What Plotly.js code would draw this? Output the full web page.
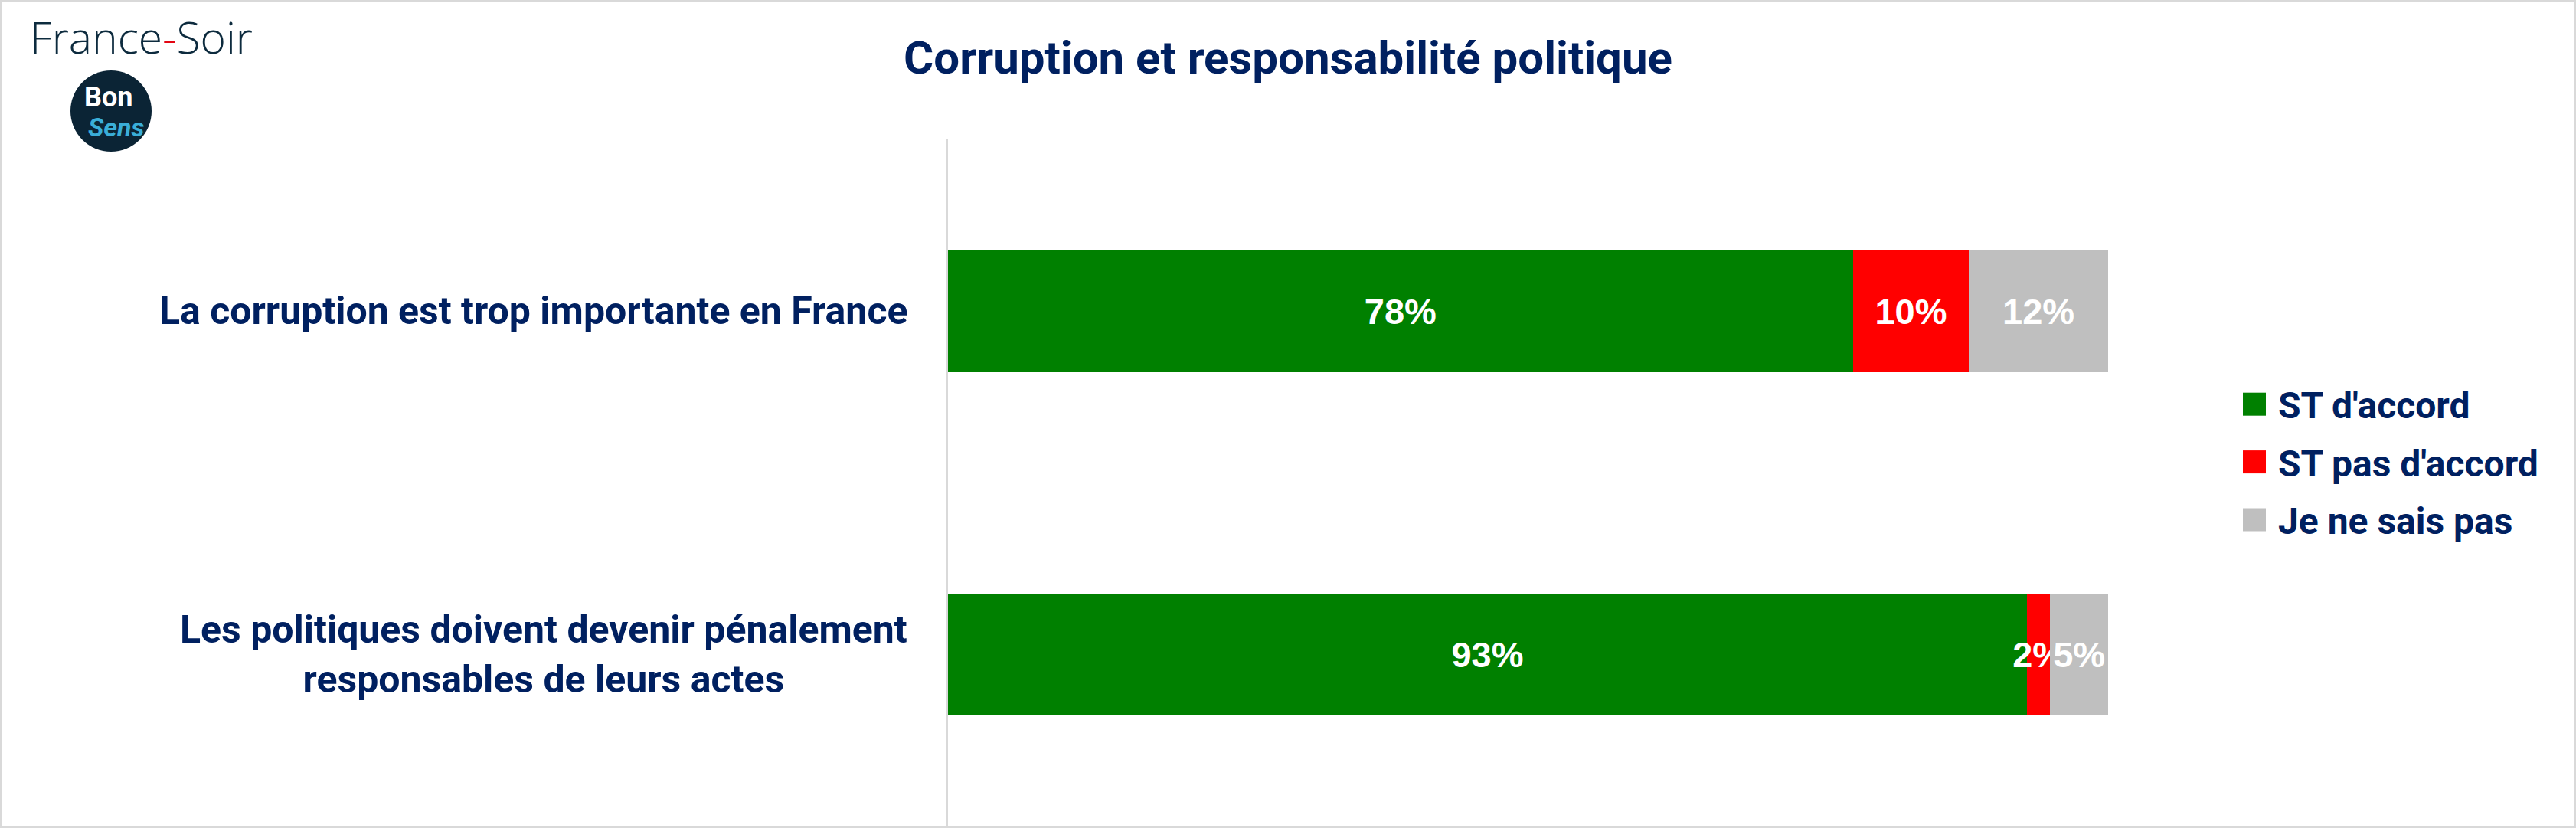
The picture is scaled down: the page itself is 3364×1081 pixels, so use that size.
<!DOCTYPE html>
<html>
<head>
<meta charset="utf-8">
<script src="https://cdn.plot.ly/plotly-3.0.1.min.js"></script>
<style>
  html, body { margin: 0; padding: 0; background: #ffffff; }
  #chart { width: 3364px; height: 1081px; }
</style>
</head>
<body>
<div id="chart"></div>
<script>
// ---- Data ----
const categories = [
  "La corruption est trop importante en France",
  "Les politiques doivent devenir pénalement responsables de leurs actes"
];
const categoryLabels = [
  "La corruption est trop importante en France",
  "Les politiques doivent devenir pénalement<br>responsables de leurs actes"
];
const seriesNames = ["ST d'accord", "ST pas d'accord", "Je ne sais pas"];
const stAccord = [78, 93];
const stPasAccord = [10, 2];
const neSaisPas = [12, 5];
const seriesColors = ["#008000", "#FF0000", "#BFBFBF"];
const chartTitle = "Corruption et responsabilité politique";

// ---- Geometry helpers (pixel -> paper) ----
const W = 3364, H = 1081;
const M = { l: 1238, r: 611, t: 182, b: 2 };
const PW = W - M.l - M.r, PH = H - M.t - M.b;
const px = v => (v - M.l) / PW;
const py = v => (H - M.b - v) / PH;

const navy = "#002060";
const seriesValues = [stAccord, stPasAccord, neSaisPas];

const traces = seriesValues.map((vals, i) => ({
  type: "bar",
  orientation: "h",
  name: seriesNames[i],
  legendgroup: "g" + i,
  y: categories,
  x: vals,
  marker: { color: seriesColors[i], line: { width: 0 } },
  text: vals.map(v => v + "%"),
  textposition: "inside",
  insidetextanchor: "middle",
  textangle: 0,
  constraintext: "none",
  cliponaxis: false,
  textfont: { family: "Liberation Sans, Arial, sans-serif", size: 47, color: "#FFFFFF", weight: 700 },
  hoverinfo: "x+name"
}));

const annotations = categories.map((c, i) => ({
  x: 0, xref: "paper", xanchor: "right", xshift: -51,
  y: c, yref: "y", yanchor: "middle",
  text: categoryLabels[i],
  align: "center",
  showarrow: false,
  font: { family: "Roboto, sans-serif", size: 50, color: navy, weight: 700 }
}));

// Logo texts
annotations.push({
  x: px(37), xref: "paper", xanchor: "left",
  y: py(48), yref: "paper", yanchor: "middle",
  text: "France<span style=\"color:#E30613\">-</span>Soir",
  showarrow: false,
  font: { family: "Open Sans, sans-serif", size: 57, color: "#0D2B3E", weight: 300 }
});
annotations.push({
  x: px(141), xref: "paper", xanchor: "center",
  y: py(127), yref: "paper", yanchor: "middle",
  text: "Bon",
  showarrow: false,
  font: { family: "Roboto, sans-serif", size: 36, color: "#FFFFFF", weight: 700 }
});
annotations.push({
  x: px(152), xref: "paper", xanchor: "center",
  y: py(166), yref: "paper", yanchor: "middle",
  text: "Sens",
  showarrow: false,
  font: { family: "Roboto, sans-serif", size: 34, color: "#3AAED8", weight: 700, style: "italic" }
});

const shapes = [
  // page frame
  { type: "rect", xref: "paper", yref: "paper",
    x0: px(1), x1: px(W - 1), y0: py(H - 1), y1: py(1),
    line: { color: "#D9D9D9", width: 2 }, fillcolor: "rgba(0,0,0,0)", layer: "below" },
  // Bon Sens circle
  { type: "circle", xref: "paper", yref: "paper",
    x0: px(92), x1: px(198), y0: py(198), y1: py(92),
    line: { color: "#0B2435", width: 0 }, fillcolor: "#0B2435", layer: "below" }
];

const layout = {
  width: W, height: H,
  margin: M,
  paper_bgcolor: "#FFFFFF",
  plot_bgcolor: "#FFFFFF",
  barmode: "stack",
  bargap: 0.645,
  title: {
    text: chartTitle,
    x: 0.5, xref: "container", xanchor: "center",
    y: 1 - 75 / H, yref: "container", yanchor: "middle",
    font: { family: "Roboto, sans-serif", size: 60, color: navy, weight: 700 }
  },
  xaxis: {
    range: [0, 100], showgrid: false, zeroline: false, showline: false,
    showticklabels: false, ticks: "", fixedrange: true
  },
  yaxis: {
    type: "category", range: [1.5, -0.5], showgrid: false, zeroline: false,
    showline: true, linecolor: "#D9D9D9", linewidth: 2,
    showticklabels: false, ticks: "", fixedrange: true
  },
  showlegend: true,
  legend: {
    x: px(2925), xanchor: "left", xref: "paper",
    y: py(490), yanchor: "top", yref: "paper",
    orientation: "v",
    traceorder: "grouped",
    tracegroupgap: 10,
    itemwidth: 40,
    bgcolor: "rgba(0,0,0,0)",
    borderwidth: 0,
    font: { family: "Roboto, sans-serif", size: 48, color: navy, weight: 700 }
  },
  annotations: annotations,
  shapes: shapes
};

Plotly.newPlot("chart", traces, layout, { displayModeBar: false, staticPlot: true }).then(gd => {
  // enlarge legend colour squares to match the reference
  gd.querySelectorAll(".legend .legendpoints path").forEach(p => {
    p.setAttribute("d", "M9,15H-21V-15H9Z");
  });
});
</script>
</body>
</html>
